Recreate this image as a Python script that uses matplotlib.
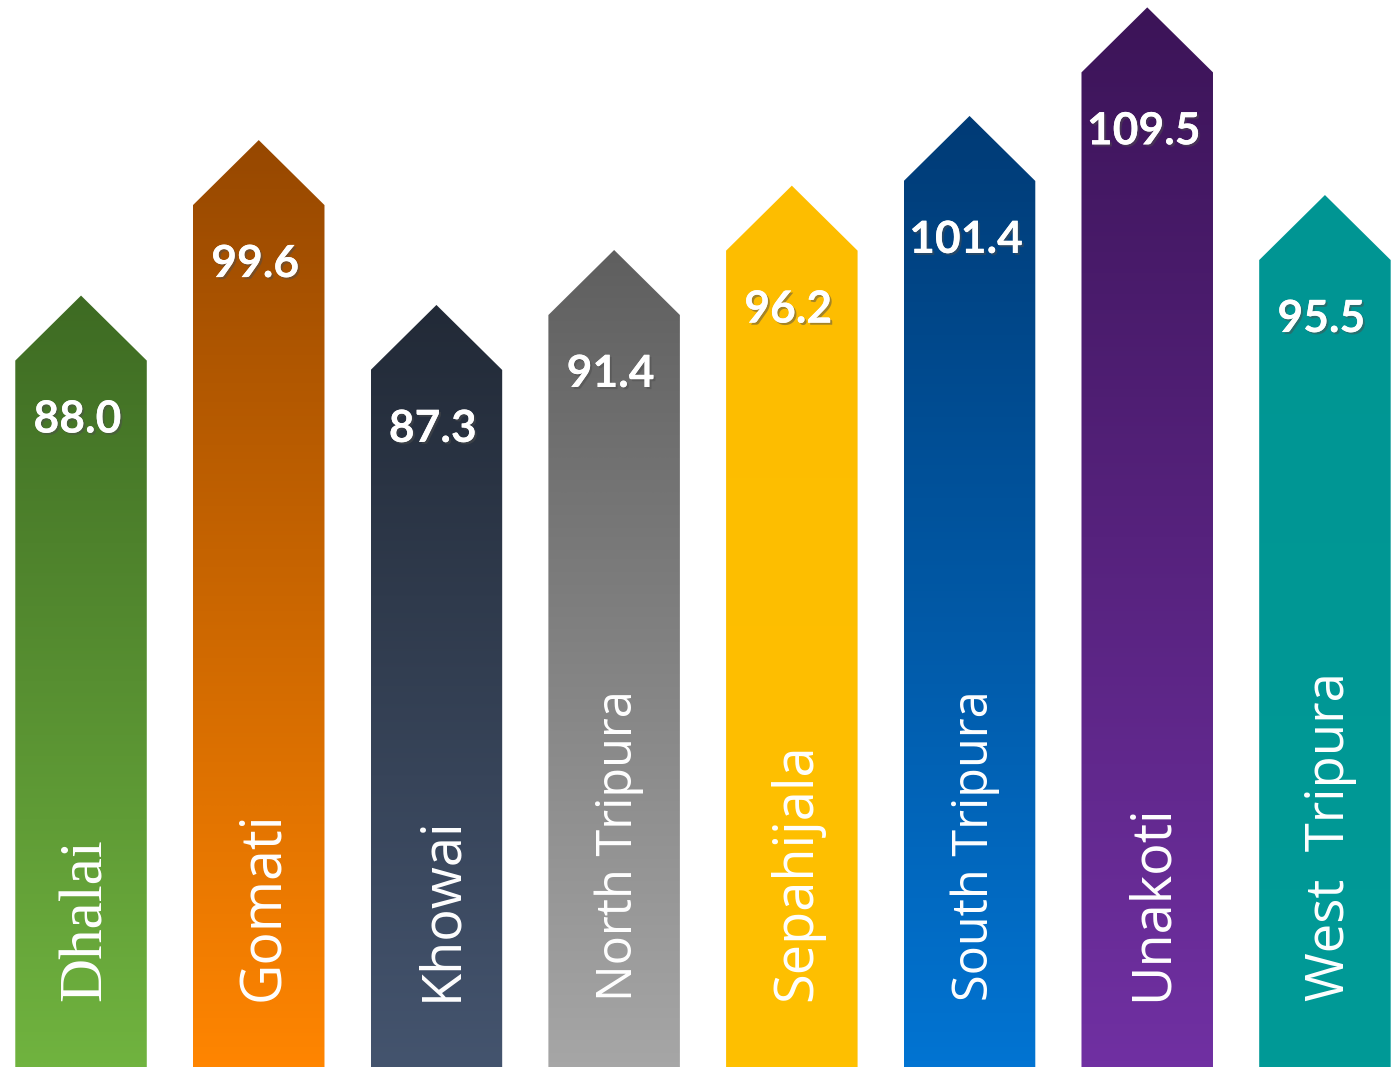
import matplotlib
matplotlib.use("Agg")
import matplotlib.pyplot as plt
import matplotlib.patheffects as pe
import matplotlib.transforms as mtransforms
from matplotlib.patches import Polygon
from matplotlib.colors import LinearSegmentedColormap
import numpy as np

# datos del grafico
districts = ["Dhalai", "Gomati", "Khowai", "North Tripura", "Sepahijala",
             "South Tripura", "Unakoti", "West  Tripura"]
values = [88.0, 99.6, 87.3, 91.4, 96.2, 101.4, 109.5, 95.5]

# estilo de cada flecha: color arriba, color abajo
top_colors = ["#3e6b23", "#974800", "#222a37", "#5f5f5f",
              "#fdbd00", "#003b76", "#3c1458", "#009593"]
bottom_colors = ["#70b33f", "#ff8500", "#44546e", "#a6a6a6",
                 "#ffc000", "#0274d2", "#7030a2", "#019a97"]
label_fonts = ["Liberation Serif", "Open Sans", "Open Sans", "Open Sans",
               "Open Sans", "Open Sans", "Open Sans", "Open Sans"]
label_sizes = [44, 40, 39, 35, 39, 35, 39, 38]

y_base = 35.3
y_top = 114.9
tip = 4.85      # altura de la punta
width = 0.74

fig = plt.figure(figsize=(13.93, 10.67), dpi=100)
ax = fig.add_axes([0, 0, 1, 1])
ax.set_xlim(-0.456, 7.383)
ax.set_ylim(y_base, y_top)
ax.axis("off")

grad = np.linspace(0, 1, 256).reshape(-1, 1)
trans = mtransforms.blended_transform_factory(ax.transData, ax.transAxes)

for i, v in enumerate(values):
    left, right = i - width / 2, i + width / 2
    pts = [(left, y_base), (left, v), (i, v + tip), (right, v), (right, y_base)]
    poly = Polygon(pts, closed=True, facecolor="none", edgecolor="none")
    ax.add_patch(poly)
    cmap = LinearSegmentedColormap.from_list("g%d" % i, [bottom_colors[i], top_colors[i]])
    im = ax.imshow(grad, cmap=cmap, extent=[left, right, y_base, v + tip],
                   origin="lower", aspect="auto", interpolation="bicubic", zorder=1)
    im.set_clip_path(poly)

    # valor arriba
    ax.text(i - 0.02, v - 4.4, "%.1f" % v, ha="center", va="center", color="white",
            fontsize=32, fontweight="bold", family="Lato", zorder=3,
            path_effects=[pe.withSimplePatchShadow(offset=(1.5, -1.5), alpha=0.5),
                          pe.Normal()])

    # nombre del distrito en vertical
    ax.text(i + 0.03, 0.062, districts[i], transform=trans, rotation=90,
            rotation_mode="anchor", ha="left", va="center", color="white",
            fontsize=label_sizes[i], family=label_fonts[i], zorder=3)

ax.set_xlim(-0.456, 7.383)
ax.set_ylim(y_base, y_top)
fig.savefig("out.png", dpi=100)
